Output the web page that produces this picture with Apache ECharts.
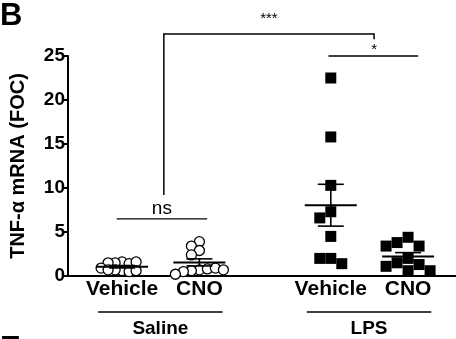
<!DOCTYPE html>
<html><head><meta charset="utf-8">
<script src="https://cdn.jsdelivr.net/npm/echarts@6/dist/echarts.min.js"></script>
<style>html,body{margin:0;padding:0;background:#fff;} #c{width:456px;height:339px;}</style>
</head><body><div id="c"></div>
<script>
// ---- data ----
const groups = ['Saline', 'LPS'];
const categories = ['Vehicle', 'CNO', 'Vehicle', 'CNO'];
const salineVehicle = [1.6, 1.5, 1.4, 1.5, 1.6, 0.6, 0.7, 0.5, 0.9, 0.7, 0.6];
const salineCNO = [3.9, 3.4, 2.9, 2.4, 0.7, 0.6, 0.8, 0.5, 0.9, 0.2, 0.7];
const lpsVehicle = [22.5, 15.8, 10.3, 7.3, 6.6, 4.5, 2.0, 2.0, 1.4];
const lpsCNO = [4.4, 3.8, 3.4, 3.4, 2.0, 1.5, 1.3, 1.1, 0.6, 0.6];
const yTicks = [0, 5, 10, 15, 20, 25];
const yTitle = 'TNF-\u03b1 mRNA (FOC)';
const sigLabels = ['ns', '***', '*'];

// ---- layout ----
const xPos = [1, 2, 3.7, 4.7];
const FONT = 'Liberation Sans, Arial, sans-serif';
const chart = echarts.init(document.getElementById('c'));

const base = {
  animation: false,
  grid: { left: 68, right: 0, top: 56, bottom: 63 },
  xAxis: { type: 'value', min: 0.3, max: 5.32, axisLine: { show: true, onZero: false, lineStyle: { color: '#000', width: 2 } },
    axisTick: { show: false }, axisLabel: { show: false }, splitLine: { show: false } },
  yAxis: { type: 'value', min: yTicks[0], max: yTicks[yTicks.length - 1], interval: 5,
    axisLine: { show: true, lineStyle: { color: '#000', width: 2 } },
    axisTick: { show: true, length: 5, lineStyle: { color: '#000', width: 2 } },
    axisLabel: { color: '#000', fontWeight: 'bold', fontSize: 19, fontFamily: FONT, margin: 3 },
    splitLine: { show: false },
    name: yTitle, nameLocation: 'middle', nameRotate: 90, nameGap: 40,
    nameTextStyle: { color: '#000', fontWeight: 'bold', fontSize: 20, fontFamily: FONT } },
  series: []
};
chart.setOption(base);

const toPx = (x, y) => chart.convertToPixel({ gridIndex: 0 }, [x, y]);
const fromPxX = (px, py) => chart.convertFromPixel({ gridIndex: 0 }, [px, py])[0];

function swarm(vals, xc, step, collide) {
  const placed = [], out = [];
  const cpx = toPx(xc, 0)[0];
  vals.forEach(v => {
    const py = toPx(xc, v)[1];
    for (let k = 0; k < 60; k++) {
      const n = Math.ceil(k / 2);
      const off = k === 0 ? 0 : (k % 2 ? -n : n) * step;
      const px = cpx + off;
      if (!placed.some(p => collide(p[0] - px, p[1] - py))) {
        placed.push([px, py]);
        out.push([fromPxX(px, py), v]);
        break;
      }
    }
  });
  return out;
}
const circColl = (dx, dy) => Math.hypot(dx, dy) < 6.5;
const sqColl = (dx, dy) => Math.abs(dx) < 10.5 && Math.abs(dy) < 10.5;

function stats(a) {
  const m = a.reduce((s, v) => s + v, 0) / a.length;
  const sd = Math.sqrt(a.reduce((s, v) => s + (v - m) * (v - m), 0) / (a.length - 1));
  return [m, sd / Math.sqrt(a.length)];
}
const sets = [salineVehicle, salineCNO, lpsVehicle, lpsCNO];
const errData = sets.map((a, i) => { const [m, se] = stats(a); return [xPos[i], m, m - se, m + se]; });

const circleStyle = { color: '#fff', borderColor: '#000', borderWidth: 1.3, opacity: 1 };
const squareStyle = { color: '#000', opacity: 1 };

const series = [
  { type: 'scatter', symbol: 'circle', symbolSize: 10, itemStyle: circleStyle, data: swarm(salineVehicle, xPos[0], 7, circColl), z: 2 },
  { type: 'scatter', symbol: 'circle', symbolSize: 10, itemStyle: circleStyle, data: swarm(salineCNO, xPos[1], 8, circColl), z: 2 },
  { type: 'scatter', symbol: 'rect', symbolSize: 11, itemStyle: squareStyle, data: swarm(lpsVehicle, xPos[2], 11, sqColl), z: 2 },
  { type: 'scatter', symbol: 'rect', symbolSize: 11, itemStyle: squareStyle, data: swarm(lpsCNO, xPos[3], 11, sqColl), z: 2 },
  { type: 'custom', z: 5, data: errData,
    renderItem: function (params, api) {
      const x = api.value(0);
      const pm = api.coord([x, api.value(1)]);
      const pl = api.coord([x, api.value(2)]);
      const ph = api.coord([x, api.value(3)]);
      const st = { stroke: '#000', lineWidth: 1.6 };
      return { type: 'group', children: [
        { type: 'line', shape: { x1: pm[0] - 26, y1: pm[1], x2: pm[0] + 26, y2: pm[1] }, style: { stroke: '#000', lineWidth: 2 } },
        { type: 'line', shape: { x1: pl[0], y1: pl[1], x2: ph[0], y2: ph[1] }, style: st },
        { type: 'line', shape: { x1: pl[0] - 13, y1: pl[1], x2: pl[0] + 13, y2: pl[1] }, style: st },
        { type: 'line', shape: { x1: ph[0] - 13, y1: ph[1], x2: ph[0] + 13, y2: ph[1] }, style: st }
      ] };
    } }
];

const g = [];
const txt = (x, y, text, size, weight, align, vAlign) => g.push({ type: 'text', x, y, z: 10,
  style: { text, fill: '#000', font: (weight || 'normal') + ' ' + size + 'px ' + FONT, textAlign: align || 'center', textVerticalAlign: vAlign || 'middle' } });
const seg = (pts, w) => g.push({ type: 'polyline', z: 10, shape: { points: pts }, style: { stroke: '#000', lineWidth: w || 1.5, fill: null } });

// category labels
const axisY = toPx(0.3, 0)[1];
categories.forEach((c, i) => txt(toPx(xPos[i], 0)[0], axisY + 13, c, 21, 'bold'));
// group lines and labels
[[0, 1], [2, 3]].forEach((pair, gi) => {
  const x1 = toPx(xPos[pair[0]] - 0.31, 0)[0], x2 = toPx(xPos[pair[1]] + 0.3, 0)[0];
  seg([[x1, axisY + 36], [x2, axisY + 36]], 1.3);
  txt((x1 + x2) / 2, axisY + 53, groups[gi], 19, 'bold');
});
// ns
const nsA = toPx(xPos[0] - 0.07, 6.5), nsB = toPx(xPos[1] + 0.1, 6.5);
seg([nsA, nsB], 1.3);
txt((nsA[0] + nsB[0]) / 2, nsA[1] - 10, sigLabels[0], 19, 'normal');
// *** bracket
const bL = (xPos[0] + xPos[1]) / 2 + 0.04, bR = (xPos[2] + xPos[3]) / 2 + 0.06;
seg([toPx(bL, 9.2), toPx(bL, 27.5), toPx(bR, 27.5), toPx(bR, 26.9)], 1.5);
const mid = toPx((bL + bR) / 2, 27.5);
txt(mid[0], mid[1] - 15, sigLabels[1], 15, 'normal');
// * line
const sA = toPx(xPos[2] - 0.03, 25), sB = toPx(xPos[3] + 0.13, 25);
seg([sA, sB], 1.3);
txt(toPx(bR, 25)[0], sA[1] - 6, sigLabels[2], 15, 'normal');
// panel letters
txt(0, 16, 'B', 31, 'bold', 'left');
txt(0, 349, 'E', 31, 'bold', 'left');

chart.setOption({ series, graphic: g });
</script></body></html>
